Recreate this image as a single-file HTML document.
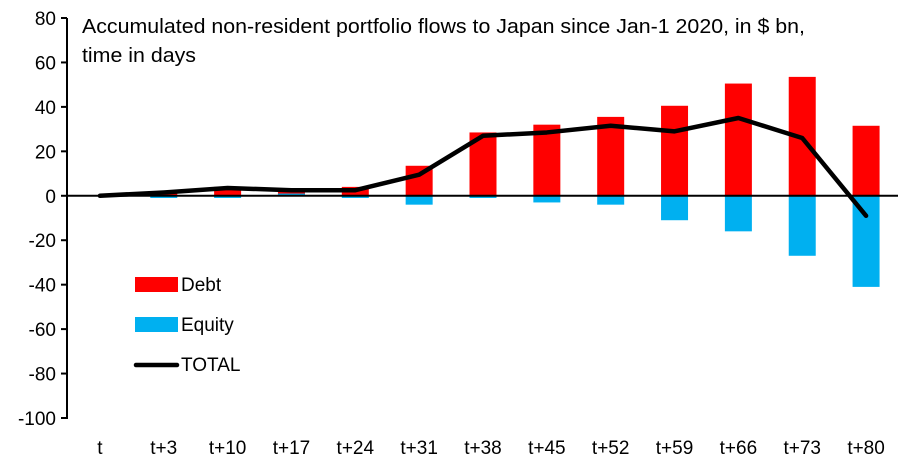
<!DOCTYPE html>
<html><head><meta charset="utf-8"><style>
html,body{margin:0;padding:0;background:#fff;}
svg{display:block;font-family:"Liberation Sans",Calibri,sans-serif;}
</style></head><body>
<svg id="chart" width="902" height="474" viewBox="0 0 902 474" xmlns="http://www.w3.org/2000/svg">
<text x="82" y="33" font-size="20" textLength="723" lengthAdjust="spacingAndGlyphs" fill="#000">Accumulated non-resident portfolio flows to Japan since Jan-1 2020, in $ bn,</text>
<text x="82" y="62" font-size="20" textLength="114" lengthAdjust="spacingAndGlyphs" fill="#000">time in days</text>
<g id="plot"></g>
<g>
<rect x="135" y="277" width="43" height="15" fill="#ff0000"/>
<text x="181" y="291" font-size="19">Debt</text>
<rect x="135" y="317" width="43" height="15" fill="#00b0f0"/>
<text x="181" y="331" font-size="19">Equity</text>
<line x1="136" y1="365" x2="177" y2="365" stroke="#000" stroke-width="4.5" stroke-linecap="round"/>
<text x="181" y="371" font-size="19">TOTAL</text>
</g>
</svg>
<script>
const categories = ["t","t+3","t+10","t+17","t+24","t+31","t+38","t+45","t+52","t+59","t+66","t+73","t+80"];
const debt = [0,2,4,2,4,13.5,28.5,32,35.5,40.5,50.5,53.5,31.5];
const equity = [0,-1,-1,1,-1,-4,-1,-3,-4,-11,-16,-27,-41];
const total = [0,1.5,3.5,2.5,2.5,9.5,27,28.5,31.5,29,35,26,-9];
const yTicks = [80,60,40,20,0,-20,-40,-60,-80,-100];

const NS="http://www.w3.org/2000/svg";
const g=document.getElementById('plot');
const x0=68, x1=898, yTop=18, yBot=418, vMax=80, vMin=-100;
const bw=(x1-x0)/categories.length;
function xC(i){return x0+bw*(i+0.5);}
function yS(v){return yTop+(vMax-v)/(vMax-vMin)*(yBot-yTop);}
function mk(t,a){const e=document.createElementNS(NS,t);for(const k in a)e.setAttribute(k,a[k]);g.appendChild(e);return e;}
const barW=27;
debt.forEach((v,i)=>{
  const r=mk('rect',{x:xC(i)-barW/2,y:Math.min(yS(v),yS(0)),width:barW,height:Math.abs(yS(v)-yS(0)),fill:'#ff0000'});
  
  
});
equity.forEach((v,i)=>{
  const r=mk('rect',{x:xC(i)-barW/2,y:Math.min(yS(v),yS(0)),width:barW,height:Math.abs(yS(v)-yS(0)),fill:'#00b0f0'});
  
  
});
const zl=mk('line',{x1:x0,x2:x1,y1:yS(0),y2:yS(0),stroke:'#000','stroke-width':2});


const ya=mk('line',{x1:x0-1,x2:x0-1,y1:yTop,y2:yBot+1,stroke:'#000','stroke-width':2});


yTicks.forEach(v=>{
  const t=mk('line',{x1:x0-7,x2:x0-1,y1:yS(v),y2:yS(v),stroke:'#000','stroke-width':2});
  
  
  const l=mk('text',{x:x0-12,y:yS(v)+7,'text-anchor':'end','font-size':19});
  l.textContent=v;
  
  
});
categories.forEach((c,i)=>{
  const l=mk('text',{x:xC(i),y:454,'text-anchor':'middle','font-size':19});
  l.textContent=c;
  
  
});
const pts=total.map((v,i)=>xC(i)+','+yS(v)).join(' ');
const pl=mk('polyline',{points:pts,fill:'none',stroke:'#000','stroke-width':4.5,'stroke-linejoin':'round','stroke-linecap':'round'});


</script>
</body></html>
